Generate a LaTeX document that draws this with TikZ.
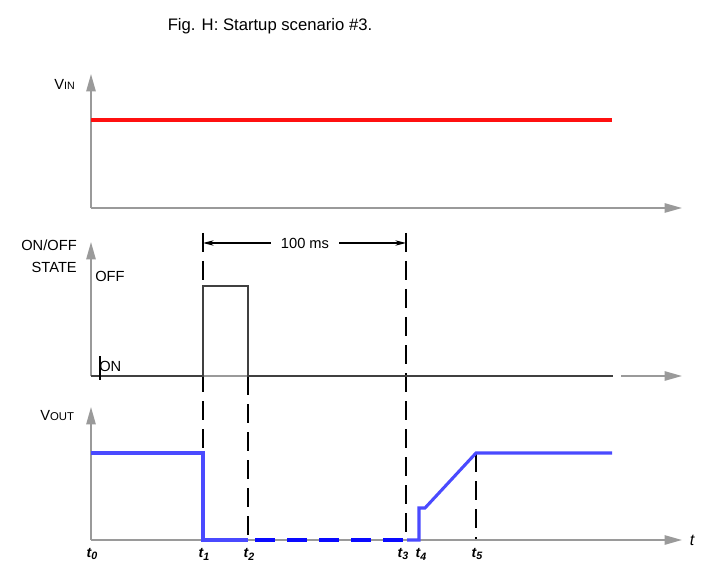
\documentclass[tikz,border=0pt]{standalone}
\usepackage{fontspec}
\setmainfont{Liberation Sans}
\usetikzlibrary{arrows.meta}
\definecolor{axisgray}{HTML}{9A9A9A}
\definecolor{vinred}{HTML}{FF1010}
\definecolor{voutblue}{HTML}{4A4AFF}
\definecolor{dashblue}{HTML}{0A0AFF}
\definecolor{siggray}{HTML}{404040}
\newcommand\tsubl[1]{t\raisebox{-0.4ex}{\fontsize{8}{8}\selectfont #1}}
\begin{document}
\begin{tikzpicture}[x=0.75pt,y=-0.75pt,
  axis/.style={draw=axisgray, line width=1.1pt},
  axisarrow/.style={axis, -{Triangle[length=13pt,width=7pt]}},
  vinline/.style={draw=vinred, line width=3pt},
  voutline/.style={draw=voutblue, line width=2.3pt, line join=miter},
  voutdash/.style={draw=dashblue, line width=3pt, dash pattern=on 15pt off 9pt},
  sigline/.style={draw=siggray, line width=1.5pt, line join=miter},
  vdash/.style={draw=black, line width=1.4pt, dash pattern=on 14pt off 7pt},
  dimarrow/.style={draw=black, line width=0.9pt, -{Stealth[length=8pt,width=4pt]}},
  lbl/.style={font=\fontsize{11}{12}\selectfont, inner sep=0pt},
  ticklbl/.style={font=\fontsize{10.5}{11}\selectfont\bfseries\itshape, inner sep=0pt},
  titlefont/.style={font=\fontsize{12.5}{14}\selectfont, inner sep=0pt}
]
\useasboundingbox (0,0) rectangle (704,563);

% title
\node[titlefont] (title) at (270,26) {Fig. H: Startup scenario \#3.};

% ---------- VIN panel ----------
\coordinate (vinO) at (91,208);
\coordinate (vinTop) at (91,74);
\coordinate (vinEnd) at (682,208);
\draw[axisarrow] (vinO) -- (vinTop);
\draw[axisarrow] (vinO) -- (vinEnd);
\coordinate (redA) at (91,120);
\coordinate (redB) at (612,120);
\draw[vinline] (redA) -- (redB);
\node[lbl, anchor=west] (vinlbl) at (54,84) {V{\fontsize{8}{8}\selectfont IN}};

% ---------- ON/OFF panel ----------
\coordinate (onO) at (91,376);
\coordinate (onTop) at (91,242);
\coordinate (onEnd) at (613,376);
\coordinate (onArrS) at (621,376);
\coordinate (onArrE) at (682,376);
\draw[axisarrow] (onO) -- (onTop);
\draw[axis] (onO) -- (onEnd);
\draw[axisarrow] (onArrS) -- (onArrE);

% dashed verticals
\coordinate (d1a) at (203,233); \coordinate (d1b) at (203,540);
\coordinate (d2a) at (248,376); \coordinate (d2b) at (248,540);
\coordinate (d3a) at (406,233); \coordinate (d3b) at (406,540);
\coordinate (d5a) at (476,453); \coordinate (d5b) at (476,540);
\draw[vdash] (d1a) -- (d1b);
\draw[vdash] (d2a) -- (d2b);
\draw[vdash] (d3a) -- (d3b);
\draw[vdash] (d5a) -- (d5b);

% on/off signal
\draw[sigline] (onO) -- (203,376) -- (203,286) -- (248,286) -- (248,376) -- (onEnd);
\coordinate (tickA) at (100,356);
\coordinate (tickB) at (100,380);

\node[lbl, anchor=east] (onofflbl) at (77,245) {ON/OFF};
\node[lbl, anchor=east] (statelbl) at (77,267) {STATE};
\node[lbl, anchor=west] (offlbl) at (95,276) {OFF};
\node[lbl, anchor=west] (onlbl) at (99,366) {ON};
\draw[black, line width=0.8pt] (tickA) -- (tickB);

% 100 ms dimension
\coordinate (dimL) at (203,243);
\coordinate (dimR) at (406,243);
\node[lbl, inner xsep=7.5pt] (dimlbl) at (305,243) {100 ms};
\draw[dimarrow] (dimlbl.west) -- (dimL);
\draw[dimarrow] (dimlbl.east) -- (dimR);

% ---------- VOUT panel ----------
\coordinate (voO) at (91,540);
\coordinate (voTop) at (91,407);
\coordinate (voEnd) at (682,540);
\draw[axisarrow] (voO) -- (voTop);
\draw[axisarrow] (voO) -- (voEnd);
\node[lbl, anchor=west] (voutlbl) at (40,416) {V{\fontsize{8.5}{8.5}\selectfont OUT}};
\node[font=\fontsize{12}{12}\selectfont\itshape, inner sep=0pt] (tlbl) at (692,540) {t};

\draw[voutline] (91,453) -- (203,453) -- (203,540) -- (248,540);
\coordinate (bdA) at (255,540);
\coordinate (bdB) at (403,540);
\draw[voutdash] (bdA) -- (bdB);
\draw[voutline] (407,540) -- (419,540) -- (419,508) -- (425,508) -- (476,453) -- (612,453);

% tick labels
\node[ticklbl] (t0) at (92,554) {\tsubl{0}};
\node[ticklbl] (t1) at (204,554) {\tsubl{1}};
\node[ticklbl] (t2) at (249,554) {\tsubl{2}};
\node[ticklbl] (t3) at (403,554) {\tsubl{3}};
\node[ticklbl] (t4) at (421,554) {\tsubl{4}};
\node[ticklbl] (t5) at (477,554) {\tsubl{5}};
\end{tikzpicture}
\end{document}
